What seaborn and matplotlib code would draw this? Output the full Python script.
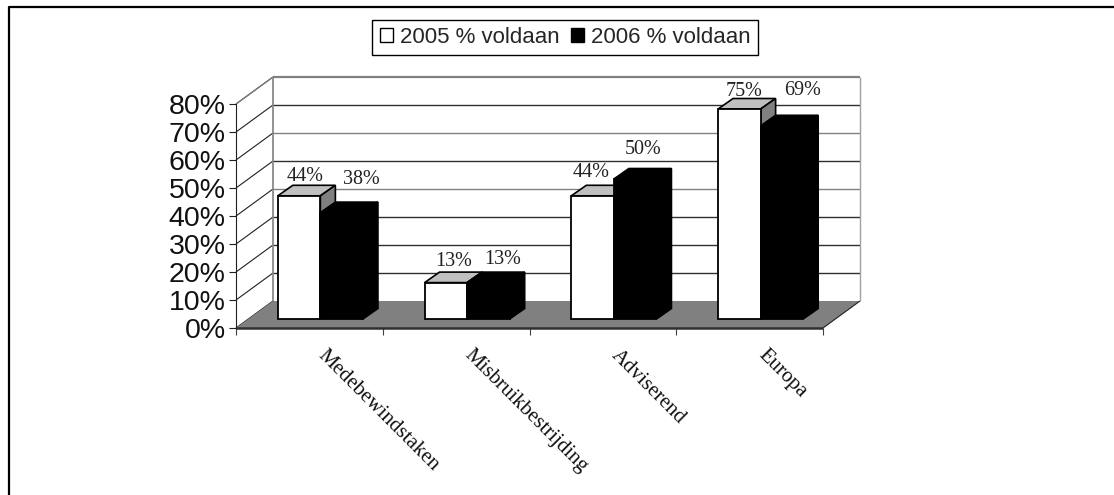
"""Kaderfiguur: percentage voldaan 2005/2006 per categorie, nep-3D staafdiagram"""
import matplotlib
matplotlib.use('Agg')
import matplotlib.pyplot as plt
import pandas as pd
import seaborn as sns
from matplotlib.lines import Line2D
from matplotlib.patches import Polygon
from matplotlib.ticker import PercentFormatter
from matplotlib.transforms import Affine2D

categories = ['Medebewindstaken', 'Misbruikbestrijding', 'Adviserend', 'Europa']
values_2005 = [44, 13, 44, 75]
values_2006 = [38, 13, 50, 69]
series_names = ['2005 % voldaan', '2006 % voldaan']
y_ticks = [0, 10, 20, 30, 40, 50, 60, 70, 80]

W, H = 1114, 495
AX_LEFT, AX_RIGHT, AX_TOP, AX_BOTTOM = 236, 823, 104, 328
PX_X = (AX_RIGHT - AX_LEFT) / 4          # pixels per categorie
PX_Y = (AX_BOTTOM - AX_TOP) / 80         # pixels per procentpunt

# dieptes in pixels
WALL_DX, WALL_DY = 37, 27
BAR_FRONT_DX, BAR_FRONT_DY = 11, 9
BAR_DX, BAR_DY = 15, 10.5

# verschuiving van de labels t.o.v. de achterkant van de staaf (px)
LABEL_SHIFT = [[(6, 4), (20, 18)], [(8, 6), (14.5, 8)], [(-1.5, 8), (7.5, 14)], [(5, 2), (21, 20)]]

GREY = '#808080'
CAP = '#c0c0c0'

df = pd.DataFrame({
    'categorie': categories * 2,
    'waarde': values_2005 + values_2006,
    'reeks': [series_names[0]] * 4 + [series_names[1]] * 4,
})

sns.set_theme(style='white')
plt.rcParams['font.family'] = ['Liberation Sans', 'DejaVu Sans']

fig = plt.figure(figsize=(W / 100, H / 100), dpi=100, facecolor='white')
ax = fig.add_axes([AX_LEFT / W, 1 - AX_BOTTOM / H,
                   (AX_RIGHT - AX_LEFT) / W, (AX_BOTTOM - AX_TOP) / H])
ax.patch.set_visible(False)

sns.barplot(data=df, x='categorie', y='waarde', hue='reeks', hue_order=series_names,
            palette=['white', 'black'], saturation=1, width=0.58, gap=0,
            edgecolor='black', linewidth=1.3, ax=ax)
ax.set_xlim(-0.5, 3.5)
ax.set_ylim(0, 80)


def dx(px):
    return px / PX_X


def dy(px):
    return px / PX_Y


def seg(xs, ys, color, lw, z=1.0):
    ax.add_line(Line2D(xs, ys, color=color, lw=lw, zorder=z, clip_on=False,
                       solid_capstyle='butt'))


# achterwand, zijwand en vloer
x0, x1 = -0.5, 3.5
wx, wy = dx(WALL_DX), dy(WALL_DY)
ax.add_patch(Polygon([(x0, 0), (x1, 0), (x1 + wx, wy), (x0 + wx, wy)],
                     closed=True, facecolor=GREY, edgecolor='none', zorder=1.5, clip_on=False))
for t in y_ticks:
    col = GREY if t in (40, 60) else '#303030'
    if t == 80:
        col = GREY
    if t > 0:
        seg([x0 + wx, x1 + wx], [t + wy, t + wy], col, 1.6 if t == 80 else 1.0)
    seg([x0, x0 + wx], [t, t + wy], '#202020', 0.8)
seg([x0 + wx, x0 + wx], [wy, 80 + wy], GREY, 1.2)
seg([x1 + wx, x1 + wx], [wy, 80 + wy], '#a0a0a0', 1.0)
seg([x1, x1 + wx], [0, wy], '#202020', 0.8, z=1.6)
seg([x0, x0 + wx], [80, 80 + wy], GREY, 0.9)
seg([x0, x1], [0, 0], '#303030', 1.8, z=1.7)

# staven verschuiven naar het midden van de vloer en diepte geven
sx, sy = dx(BAR_FRONT_DX), dy(BAR_FRONT_DY)
bx, by = dx(BAR_DX), dy(BAR_DY)
for s, container in enumerate(ax.containers):
    dark = s == 1
    for c, bar in enumerate(container.patches):
        bar.set_x(bar.get_x() + sx)
        bar.set_y(bar.get_y() + sy)
        bar.set_clip_on(False)
        z = 3 + 2 * s
        bar.set_zorder(z + 1)
        left, right = bar.get_x(), bar.get_x() + bar.get_width()
        top, base = bar.get_y() + bar.get_height(), bar.get_y()
        cap = [(left, top), (right, top), (right + bx, top + by), (left + bx, top + by)]
        side = [(right, base), (right + bx, base + by), (right + bx, top + by), (right, top)]
        ax.add_patch(Polygon(cap, closed=True, facecolor='black' if dark else CAP,
                             edgecolor='black', lw=1.2, zorder=z, clip_on=False))
        ax.add_patch(Polygon(side, closed=True, facecolor='black' if dark else GREY,
                             edgecolor='black', lw=1.2, zorder=z, clip_on=False))
        val = [values_2005, values_2006][s][c]
        lx, ly = LABEL_SHIFT[c][s]
        ax.text((left + right) / 2 + dx(lx), top + by + dy(ly), f'{val}%',
                ha='center', va='baseline', fontsize=14.5, color='#222222', zorder=10,
                family=['Liberation Serif'], clip_on=False)

# assen
sns.despine(ax=ax, top=True, right=True, left=False, bottom=True)
ax.spines['left'].set_color('#202020')
ax.spines['left'].set_linewidth(0.8)
ax.set_xlabel('')
ax.set_ylabel('')
ax.set_yticks(y_ticks)
ax.yaxis.set_major_formatter(PercentFormatter(decimals=0))
ax.tick_params(axis='y', left=True, length=5, width=0.8, color='#202020', pad=2.5,
               labelsize=20.5, labelcolor='#111111')
ax.set_xticks(range(len(categories)))
ax.set_xticks([x0 + i for i in range(5)], minor=True)
ax.tick_params(axis='x', which='minor', bottom=True, length=5, width=0.8, color='#404040')
ax.tick_params(axis='x', which='major', bottom=False, length=0, pad=13)
ax.set_xticklabels(categories, rotation=-45, ha='left', va='top', rotation_mode='anchor',
                   family='Liberation Serif', fontsize=15, color='#111111')
for label in ax.get_xticklabels():
    label.set_transform(label.get_transform() + Affine2D().translate(18, 0))

# legenda
handles, labels = ax.get_legend_handles_labels()
ax.get_legend().remove()
leg = fig.legend(handles, labels, ncol=2, loc='center',
                 bbox_to_anchor=(565 / W, 1 - 37.5 / H), fontsize=16, fancybox=False,
                 framealpha=1, edgecolor='black', handlelength=0.6, handleheight=0.6,
                 handletextpad=0.3, columnspacing=0.5, borderpad=0.33, borderaxespad=0)
leg.get_frame().set_linewidth(1.0)
for h in leg.legend_handles:
    h.set_edgecolor('black')
    h.set_linewidth(1.0)

# kader: alleen links en boven
fig.add_artist(Line2D([8.5 / W, 8.5 / W, 1], [0, 1 - 6.5 / H, 1 - 6.5 / H],
                      color='black', lw=1.6, transform=fig.transFigure))

fig.savefig('out.png', dpi=100, facecolor='white')
plt.close(fig)
